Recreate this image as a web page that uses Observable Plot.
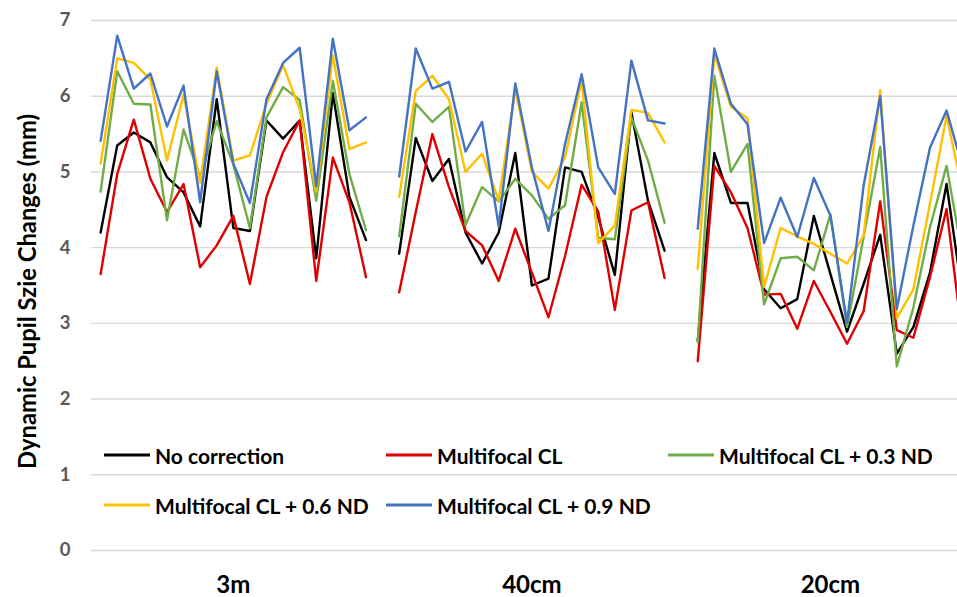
<!DOCTYPE html>
<html>
<head>
<meta charset="utf-8">
<script src="https://cdn.jsdelivr.net/npm/d3@7"></script>
<script src="https://cdn.jsdelivr.net/npm/@observablehq/plot@0.6"></script>
<style>
  html, body { margin: 0; padding: 0; background: #fff; }
  #wrap { position: relative; width: 957px; height: 597px; font-family: Lato, "Open Sans", sans-serif; }
  .leg { position: absolute; display: flex; align-items: center; font-weight: bold; font-size: 21px; color: #000; white-space: nowrap; transform: translateY(-50%); }
  .leg span.sw { display: inline-block; width: 46px; height: 2.5px; margin-right: 5px; }
</style>
</head>
<body>
<div id="wrap"></div>
<script>
const groups = ["3m", "40cm", "20cm"];
const seriesNames = ["No correction", "Multifocal CL", "Multifocal CL + 0.3 ND", "Multifocal CL + 0.6 ND", "Multifocal CL + 0.9 ND"];
const seriesColors = ["#000000", "#E00000", "#70AD47", "#FFC000", "#4472C4"];
const yTicks = [0, 1, 2, 3, 4, 5, 6, 7];
const yLabel = "Dynamic Pupil Szie Changes (mm)";

// 17 readings per distance, groups concatenated: 3m, 40cm, 20cm
const noCorrection = [
  4.20,5.35,5.52,5.39,4.93,4.73,4.28,5.96,4.26,4.22,5.68,5.44,5.68,3.86,6.04,4.67,4.10,
  3.92,5.45,4.88,5.17,4.20,3.79,4.20,5.25,3.50,3.59,5.06,5.00,4.40,3.64,5.79,4.62,3.96,
  2.77,5.25,4.59,4.59,3.45,3.20,3.32,4.42,3.65,2.89,3.52,4.17,2.60,2.95,3.67,4.84,3.31
];
const multifocalCL = [
  3.65,4.97,5.69,4.91,4.47,4.84,3.74,4.03,4.42,3.52,4.67,5.26,5.68,3.56,5.19,4.60,3.61,
  3.41,4.47,5.50,4.80,4.22,4.03,3.56,4.25,3.67,3.08,3.89,4.83,4.48,3.18,4.49,4.60,3.60,
  2.50,5.08,4.73,4.26,3.38,3.39,2.93,3.56,3.15,2.73,3.16,4.61,2.91,2.81,3.61,4.51,2.74
];
const multifocalND03 = [
  4.74,6.33,5.90,5.89,4.36,5.56,4.93,5.67,5.10,4.26,5.72,6.12,5.95,4.62,6.20,4.97,4.23,
  4.15,5.90,5.66,5.86,4.30,4.80,4.61,4.91,4.69,4.38,4.56,5.92,4.13,4.11,5.72,5.15,4.33,
  2.75,6.27,5.00,5.37,3.25,3.86,3.88,3.70,4.44,2.95,4.14,5.33,2.43,3.21,4.27,5.08,3.85
];
const multifocalND06 = [
  5.11,6.50,6.44,6.22,5.15,6.02,4.86,6.38,5.15,5.22,5.90,6.41,5.83,4.74,6.54,5.30,5.39,
  4.67,6.07,6.27,5.96,5.00,5.24,4.62,6.10,5.00,4.78,5.19,6.21,4.06,4.29,5.82,5.78,5.39,
  3.72,6.56,5.86,5.71,3.48,4.26,4.15,4.05,3.92,3.79,4.16,6.08,3.07,3.45,4.58,5.74,4.71
];
const multifocalND09 = [
  5.41,6.80,6.10,6.30,5.60,6.14,4.60,6.33,5.11,4.59,5.96,6.44,6.64,4.81,6.76,5.55,5.72,
  4.94,6.63,6.10,6.19,5.27,5.66,4.28,6.17,5.06,4.22,5.37,6.29,5.06,4.71,6.47,5.68,5.64,
  4.25,6.63,5.90,5.63,4.06,4.66,4.14,4.92,4.42,3.01,4.82,6.00,3.19,4.29,5.32,5.81,5.04
];

const perGroup = 17;
const slot = 18; // one empty category between distance groups
const seriesValues = [noCorrection, multifocalCL, multifocalND03, multifocalND06, multifocalND09];

const rows = [];
seriesValues.forEach((vals, s) => {
  vals.forEach((v, i) => {
    const g = Math.floor(i / perGroup), j = i % perGroup;
    rows.push({series: seriesNames[s], group: groups[g], x: g * slot + j, v});
  });
});
const groupCenters = groups.map((g, k) => k * slot + (perGroup - 1) / 2);

const chart = Plot.plot({
  width: 957,
  height: 597,
  marginLeft: 91,
  marginRight: 0,
  marginTop: 20,
  marginBottom: 47,
  style: {fontFamily: "Lato, 'Open Sans', sans-serif", background: "#fff"},
  x: {domain: [-0.55, 51.66]},
  y: {domain: [0, 7]},
  color: {domain: seriesNames, range: seriesColors},
  marks: [
    Plot.gridY(yTicks, {stroke: "#d9d9d9", strokeOpacity: 1, strokeWidth: 1.4}),
    Plot.axisY(yTicks, {tickSize: 0, tickPadding: 21, fontSize: 18.5, fontWeight: "bold", fill: "#595959",
      tickFormat: d3.format("d"), label: null}),
    Plot.text([yLabel], {frameAnchor: "left", textAnchor: "middle", rotate: -90, dx: -63, dy: 6,
      fontSize: 23.8, fontWeight: "bold", fill: "#000"}),
    Plot.axisX(groupCenters, {tickSize: 0, tickPadding: 25, fontSize: 24, fontWeight: "bold", fill: "#000",
      tickFormat: (d) => groups[groupCenters.indexOf(d)], label: null}),
    Plot.line(rows, {x: "x", y: "v", z: d => d.series + "|" + d.group, stroke: "series",
      strokeWidth: 2.4, clip: true})
  ]
});
const wrap = document.getElementById("wrap");
wrap.appendChild(chart);

// Legend (inside plot area, two rows)
const legPos = [[104, 455], [386, 455], [668, 455], [104, 505], [386, 505]];
seriesNames.forEach((name, i) => {
  const d = document.createElement("div");
  d.className = "leg";
  d.style.left = legPos[i][0] + "px";
  d.style.top = legPos[i][1] + "px";
  const sw = document.createElement("span");
  sw.className = "sw";
  sw.style.background = seriesColors[i];
  d.appendChild(sw);
  d.appendChild(document.createTextNode(name));
  wrap.appendChild(d);
});
</script>
</body>
</html>
